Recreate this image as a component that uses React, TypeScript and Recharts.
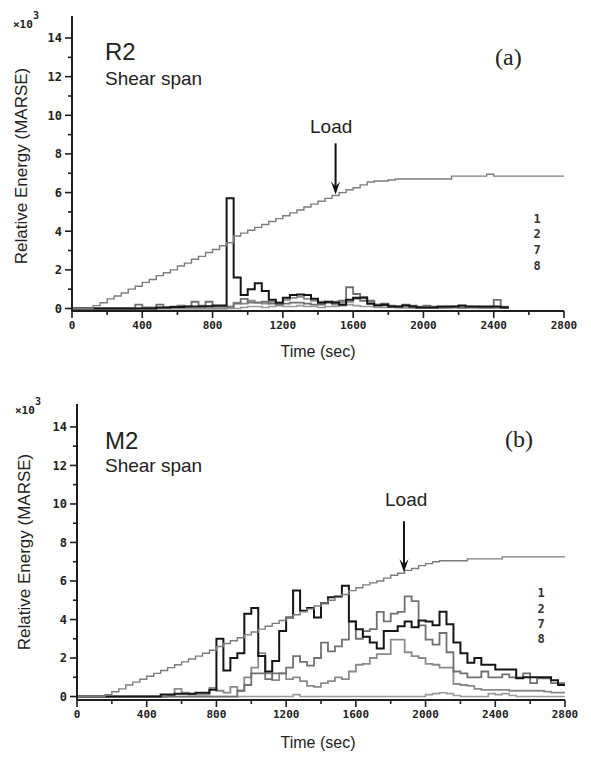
import React from 'react';
import { LineChart, Line, XAxis, YAxis, ReferenceLine } from 'recharts';

const BIN_SEC = 40;
const X_TICKS = [0, 200, 400, 600, 800, 1000, 1200, 1400, 1600, 1800, 2000, 2200, 2400, 2600, 2800];
const X_LABELED = [0, 400, 800, 1200, 1600, 2000, 2400, 2800];
const Y_TICKS = [0, 1, 2, 3, 4, 5, 6, 7, 8, 9, 10, 11, 12, 13, 14];
const Y_LABELED = [0, 2, 4, 6, 8, 10, 12, 14];
const CHANNELS = ['1', '2', '7', '8'];

// ---- Panel (a) R2 ----
const LOAD_R2 = [0,0,0,0.15,0.3,0.5,0.65,0.8,1.0,1.15, 1.35,1.5,1.7,1.85,2.0,2.2,2.35,2.55,2.7,2.9, 3.05,3.25,3.4,3.75,3.9,4.05,4.2,4.35,4.5,4.65, 4.8,4.95,5.1,5.25,5.4,5.55,5.7,5.85,6.0,6.15, 6.25,6.4,6.55,6.6,6.6,6.65,6.7,6.7,6.7,6.7, 6.7,6.7,6.7,6.7,6.85,6.85,6.85,6.85,6.85,6.95, 6.85,6.85,6.85,6.85,6.85,6.85,6.85,6.85,6.85,6.85];
const R2_CH1 = [0,0,0,0,0,0,0,0,0,0,0,0, 0.05,0.05,0.08,0.08,0.1,0.1,0.1,0.12,0.15,0.15, 5.7,1.6,0.7,1.0,1.3,0.9,0.45,0.3,0.55,0.7,0.72,0.7,0.5,0.3,0.35,0.3,0.2,0.45,0.55,0.55,0.25,0.15,0.2,0.1,0.1,0.15,0.1,0.05,0.05,0.05,0.1,0.1,0.1,0.15,0.1,0.1,0.1,0.1,0.1,0.05,0, null,null,null,null,null,null,null];
const R2_CH2 = [0,0,0,0,0,0,0,0,0, 0.2,0.05,0.05,0.2,0.05,0.1,0.15,0.1,0.35,0.15,0.35,0.1,0.1,0.1,0.25,0.5,0.3,0.3,0.35,0.25,0.2,0.25,0.3,0.3,0.25,0.2,0.2,0.3,0.35,0.4,1.1,0.75,0.4,0.4,0.2,0.25,0.15,0.1,0.2,0.15,0.1,0.15,0.1,0.05,0.05,0.1,0.05,0.1,0.1,0.05,0.05,0.45,0.1,0, null,null,null,null,null,null,null];
const R2_CH7 = [0,0,0,0,0,0,0,0,0,0,0,0,0,0,0,0,0,0,0,0,0,0, 0.05,0.3,0.25,0.4,0.3,0.25,0.35,0.3,0.45,0.55,0.6,0.5,0.4,0.35,0.3,0.2,0.3,0.35,0.5,0.6,0.35,0.2,0.15,0.1,0.1,0.15,0.05,0.05,0.05,0.05,0.05,0.1,0.1,0.05,0.05,0.05,0.05,0.05,0.05,0.05,0, null,null,null,null,null,null,null];
const R2_CH8 = [0,0,0,0,0,0,0,0,0,0,0,0,0,0,0,0,0,0,0,0,0,0,0,0, 0.05,0.1,0.1,0.05,0.1,0.15,0.1,0.1,0.15,0.1,0.1,0.05,0.1,0.1,0.15,0.2,0.15,0.1,0.1,0.05,0.05,0.05, 0.03,0.03,0.03,0.03,0.03,0.03,0.03,0.03,0.03,0.03,0.03,0.03,0.03,0.03,0.03,0.03,0, null,null,null,null,null,null,null];

// ---- Panel (b) M2 ----
const LOAD_M2 = [0,0,0,0,0.1,0.25,0.4,0.6,0.75,0.9, 1.05,1.2,1.35,1.5,1.65,1.8,1.95,2.1,2.25,2.4, 2.6,2.75,2.9,3.05,3.2,3.35,3.5,3.65,3.8,3.95, 4.1,4.25,4.4,4.55,4.7,4.85,5.0,5.15,5.3,5.5, 5.65,5.8,5.9,6.0,6.15,6.3,6.4,6.55,6.65,6.8, 6.9,7.0,7.05,7.05,7.05,7.05,7.15,7.15,7.15,7.15, 7.15,7.25,7.25,7.25,7.25,7.25,7.25,7.25,7.25,7.25];
const M2_CH1 = [0,0,0,0,0,0,0,0,0,0,0,0, 0.1,0.1,0.15,0.15,0.15,0.2,0.2, 0.35, 3.0,1.35,2.0,2.25,4.3,4.6,2.1,1.3,1.85,3.4,4.1,5.5,4.45,4.6,4.1,4.85,5.15,5.2,5.75,3.9,3.5,3.1,2.8,2.5,3.4,3.4,3.65,3.9,3.6,3.95,3.9,3.7,4.4,3.75,2.8,2.25,1.75,2.0,1.65,1.65,1.4,1.4,1.4,0.95,1.0,1.0,1.0,1.0,0.85,0.6];
const M2_CH2 = [0,0,0,0,0,0,0,0,0,0,0,0,0,0,0,0,0,0,0,0,0,0,0, 0.3,0.6,1.2,1.2,0.9,1.2,1.2,1.5,2.1,1.8,1.6,2.0,2.8,2.35,2.6,2.95,3.9,3.0,3.4,3.5,4.4,3.9,4.3,4.4,5.2,4.95,3.7,2.95,2.7,3.3,2.3,1.3,1.2,1.0,1.0,1.3,1.0,1.0,1.15,1.0,1.0,1.2,0.7,0.95,0.95,0.7,0.7];
const M2_CH7 = [0,0,0,0,0,0,0,0,0,0,0,0,0, 0.05,0.4,0.2,0.1,0.1,0.1,0.45,0.3,0.2,0.5,0.3,1.0,1.5,2.25,1.2,0.85,1.2,0.9,1.0,0.8,0.55,0.5,0.7,0.8,1.0,0.9,1.3,1.65,1.7,2.0,2.2,2.2,2.95,2.95,2.3,2.1,2.0,1.7,1.65,1.5,1.5,0.65,0.6,0.55,0.4,0.35,0.35,0.35,0.35,0.3,0.3,0.3,0.3,0.3,0.25,0.2,0.2];
const M2_CH8 = [0,0,0,0,0,0,0,0,0,0,0,0,0,0,0,0,0,0,0,0,0,0,0,0,0,0,0,0,0,0,0, 0.1, 0,0,0,0,0,0,0,0,0,0,0,0,0,0,0,0,0,0,0.1,0.15,0.2,0.15,0.05,0,0,0,0,0.15,0.1,0.15,0.05,0,0,0,0,0,0,0];

function buildRows(load: (number | null)[], chs: (number | null)[][]) {
  const rows: any[] = [];
  for (let i = 0; i <= load.length; i++) {
    const k = Math.min(i, load.length - 1);
    const row: any = { t: i * BIN_SEC, load: load[k] };
    chs.forEach((arr, j) => {
      row['c' + CHANNELS[j]] = i < arr.length ? arr[i] : (arr[k] === null ? null : arr[k]);
    });
    rows.push(row);
  }
  return rows;
}

const ROWS_R2 = buildRows(LOAD_R2, [R2_CH1, R2_CH2, R2_CH7, R2_CH8]);
const ROWS_M2 = buildRows(LOAD_M2, [M2_CH1, M2_CH2, M2_CH7, M2_CH8]);

const MONO = '"DejaVu Sans Mono", "Liberation Mono", monospace';
const SANS = '"Liberation Sans", Arial, sans-serif';
const SERIF = '"Liberation Serif", "Times New Roman", serif';
const AXIS = '#1e1e1e';

const XTick = (props: any) => {
  const { x, y, payload } = props;
  const v = payload.value;
  const major = X_LABELED.includes(v);
  const axisY = y - 10;
  return (
    <g>
      <line x1={x} x2={x} y1={axisY} y2={axisY + (major ? 7 : 4)} stroke={AXIS} strokeWidth={1.6} />
      {major && (
        <text x={x} y={y} dy="0.71em" textAnchor="middle" fontFamily={MONO} fontWeight="bold" fontSize={11} fill="#222">
          {v}
        </text>
      )}
    </g>
  );
};

const YTick = (props: any) => {
  const { x, y, payload } = props;
  const v = payload.value;
  const major = Y_LABELED.includes(v);
  const axisX = x + 10;
  return (
    <g>
      <line x1={axisX - (major ? 7 : 4)} x2={axisX} y1={y} y2={y} stroke={AXIS} strokeWidth={1.6} />
      {major && (
        <text x={x} y={y} dy="0.36em" textAnchor="end" fontFamily={MONO} fontWeight="bold" fontSize={12} fill="#222">
          {v}
        </text>
      )}
    </g>
  );
};

const ArrowShape = (p: any) => {
  const { x1, y1, x2, y2 } = p;
  if (x1 == null) return null;
  return (
    <g>
      <line x1={x1} y1={y1} x2={x2} y2={y2 - 6} stroke="#111" strokeWidth={2} />
      <path d={`M${x2 - 4.5},${y2 - 13} L${x2},${y2} L${x2 + 4.5},${y2 - 13} L${x2},${y2 - 8} Z`} fill="#111" />
    </g>
  );
};

type PanelProps = {
  rows: any[];
  top: number;
  height: number;
  margin: { top: number; right: number; left: number; bottom: number };
  yAxisWidth: number;
  yDomain: [number, number];
  arrow: { t: number; from: number; to: number };
};

function Panel({ rows, top, height, margin, yAxisWidth, yDomain, arrow }: PanelProps) {
  return (
    <div style={{ position: 'absolute', left: 0, top, width: 591, height }}>
      <LineChart width={591} height={height} data={rows} margin={margin}>
        <XAxis
          xAxisId="b"
          dataKey="t"
          type="number"
          domain={[0, 2800]}
          ticks={X_TICKS}
          interval={0}
          tickSize={7}
          tickMargin={3}
          tickLine={false}
          tick={<XTick />}
          axisLine={{ stroke: AXIS, strokeWidth: 2 }}
          height={25}
          allowDataOverflow
        />
        <XAxis
          xAxisId="top"
          orientation="top"
          dataKey="t"
          type="number"
          domain={[0, 2800]}
          tick={false}
          tickLine={false}
          height={0}
          axisLine={{ stroke: AXIS, strokeWidth: 2 }}
          allowDataOverflow
        />
        <YAxis
          yAxisId="l"
          type="number"
          domain={yDomain}
          ticks={Y_TICKS}
          interval={0}
          tickSize={7}
          tickMargin={3}
          tickLine={false}
          tick={<YTick />}
          width={yAxisWidth}
          axisLine={{ stroke: AXIS, strokeWidth: 2 }}
          allowDataOverflow
        />
        <YAxis
          yAxisId="r"
          orientation="right"
          type="number"
          domain={yDomain}
          tick={false}
          tickLine={false}
          width={0}
          axisLine={{ stroke: AXIS, strokeWidth: 2.5 }}
          allowDataOverflow
        />
        <Line xAxisId="b" yAxisId="l" type="stepAfter" dataKey="c8" stroke="#9a9a9a" strokeWidth={1.6} dot={false} activeDot={false} isAnimationActive={false} />
        <Line xAxisId="b" yAxisId="l" type="stepAfter" dataKey="c7" stroke="#8a8a8a" strokeWidth={1.8} dot={false} activeDot={false} isAnimationActive={false} />
        <Line xAxisId="b" yAxisId="l" type="stepAfter" dataKey="c2" stroke="#707070" strokeWidth={1.8} dot={false} activeDot={false} isAnimationActive={false} />
        <Line xAxisId="b" yAxisId="l" type="stepAfter" dataKey="c1" stroke="#151515" strokeWidth={2} dot={false} activeDot={false} isAnimationActive={false} />
        <Line xAxisId="b" yAxisId="l" type="stepAfter" dataKey="load" stroke="#7c7c7c" strokeWidth={1.4} dot={false} activeDot={false} isAnimationActive={false} />
        <ReferenceLine
          xAxisId="b"
          yAxisId="l"
          segment={[{ x: arrow.t, y: arrow.from }, { x: arrow.t, y: arrow.to }]}
          shape={ArrowShape}
          ifOverflow="visible"
        />
      </LineChart>
    </div>
  );
}

function Texts() {
  const legend = (x: number, ys: number[]) =>
    CHANNELS.map((c, i) => (
      <text key={c} x={x} y={ys[i]} textAnchor="middle" fontFamily={MONO} fontWeight="bold" fontSize={12} fill="#333">
        {c}
      </text>
    ));
  return (
    <svg width={591} height={764} style={{ position: 'absolute', left: 0, top: 0, pointerEvents: 'none' }}>
      {/* panel a */}
      <text x={13} y={28} fontFamily={MONO} fontWeight="bold" fontSize={11} fill="#222">
        ×10<tspan dy={-9} fontSize={10}>3</tspan>
      </text>
      <text x={105} y={60} fontFamily={SANS} fontSize={24} fill="#222">R2</text>
      <text x={105} y={85} fontFamily={SANS} fontSize={19} fill="#222">Shear span</text>
      <text x={495} y={65} fontFamily={SERIF} fontSize={24} fill="#222">(a)</text>
      <text x={310} y={133} fontFamily={SANS} fontSize={19} fill="#222">Load</text>
      {legend(537, [223, 238, 254, 270])}
      <text x={318} y={357} textAnchor="middle" fontFamily={SANS} fontSize={16} fill="#222">Time (sec)</text>
      <text transform="translate(27,166) rotate(-90)" textAnchor="middle" fontFamily={SANS} fontSize={17} fill="#222">
        Relative Energy (MARSE)
      </text>
      {/* panel b */}
      <text x={15} y={414} fontFamily={MONO} fontWeight="bold" fontSize={11} fill="#222">
        ×10<tspan dy={-9} fontSize={10}>3</tspan>
      </text>
      <text x={105} y={449} fontFamily={SANS} fontSize={24} fill="#222">M2</text>
      <text x={105} y={472} fontFamily={SANS} fontSize={19} fill="#222">Shear span</text>
      <text x={505} y={447} fontFamily={SERIF} fontSize={24} fill="#222">(b)</text>
      <text x={385} y={506} fontFamily={SANS} fontSize={19} fill="#222">Load</text>
      {legend(541, [597, 613, 628, 643])}
      <text x={318} y={748} textAnchor="middle" fontFamily={SANS} fontSize={16} fill="#222">Time (sec)</text>
      <text transform="translate(30,552) rotate(-90)" textAnchor="middle" fontFamily={SANS} fontSize={17} fill="#222">
        Relative Energy (MARSE)
      </text>
    </svg>
  );
}

export default function App() {
  return (
    <div style={{ position: 'absolute', left: 0, top: 0, width: 591, height: 764, background: '#fff' }}>
      <Panel
        rows={ROWS_R2}
        top={0}
        height={340}
        margin={{ top: 16, right: 27, left: 0, bottom: 4 }}
        yAxisWidth={72}
        yDomain={[-0.13, 15.14]}
        arrow={{ t: 1500, from: 8.55, to: 5.9 }}
      />
      <Panel
        rows={ROWS_M2}
        top={380}
        height={360}
        margin={{ top: 24, right: 26, left: 0, bottom: 15 }}
        yAxisWidth={77}
        yDomain={[-0.18, 15.19]}
        arrow={{ t: 1876, from: 9.1, to: 6.45 }}
      />
      <Texts />
    </div>
  );
}
